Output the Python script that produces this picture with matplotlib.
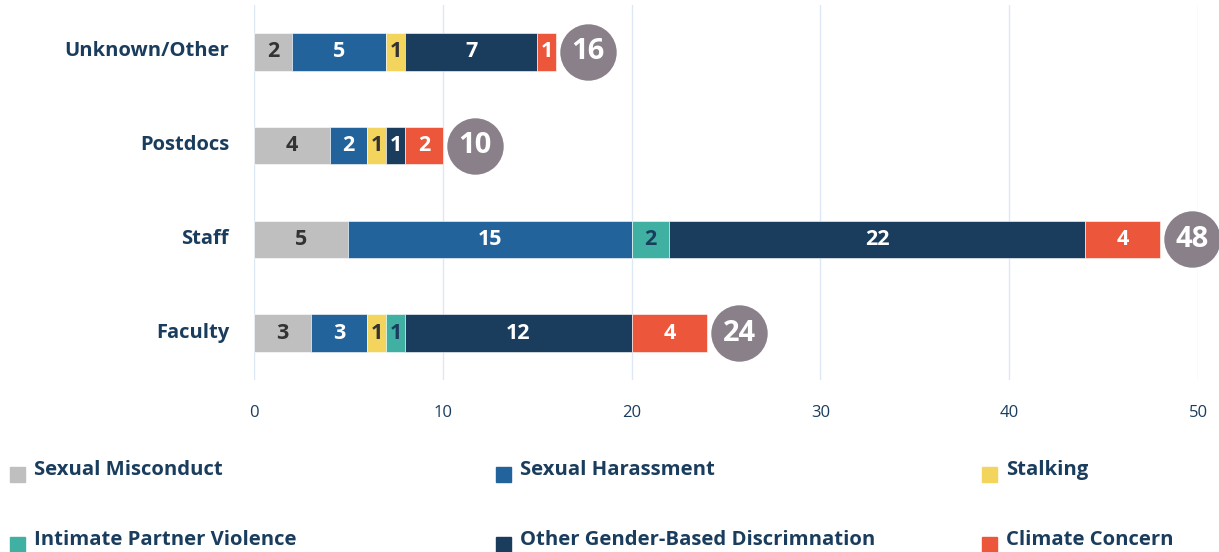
import matplotlib.pyplot as plt
from matplotlib.patches import Rectangle
from matplotlib.transforms import offset_copy, ScaledTranslation

plt.rcParams['font.family'] = ['Open Sans', 'DejaVu Sans']

# data
groups = ['Faculty', 'Staff', 'Postdocs', 'Unknown/Other']
categories = ['Sexual Misconduct', 'Sexual Harassment', 'Stalking',
              'Intimate Partner Violence', 'Other Gender-Based Discrimnation',
              'Climate Concern']
sexual_misconduct = [3, 5, 4, 2]
sexual_harassment = [3, 15, 2, 5]
stalking = [1, 0, 1, 1]
intimate_partner = [1, 2, 0, 0]
other_gender = [12, 22, 1, 7]
climate_concern = [4, 4, 2, 1]
totals = [24, 48, 10, 16]
xticks = [0, 10, 20, 30, 40, 50]

series = [sexual_misconduct, sexual_harassment, stalking,
          intimate_partner, other_gender, climate_concern]
colors = ['#bfbfbf', '#22639b', '#f3d45c', '#3fb0a2', '#1a3d5e', '#ec573b']
txt_colors = ['#333333', 'white', '#333333', '#1a3d5e', 'white', 'white']
navy = '#1a3d5e'

fig = plt.figure(figsize=(12.19, 5.52), dpi=100)
ax = fig.add_axes([0.2084, 0.3116, 0.7744, 0.6794])

ypos = list(range(len(groups)))
left = [0] * len(groups)
for vals, c, tc in zip(series, colors, txt_colors):
    ax.barh(ypos, vals, left=left, height=0.4, color=c,
            edgecolor='white', linewidth=0.4, zorder=3)
    for i, v in enumerate(vals):
        if v > 0:
            ax.text(left[i] + v / 2, ypos[i], str(v), ha='center', va='center',
                    fontsize=15.5, fontweight='bold', color=tc, zorder=4)
    left = [l + v for l, v in zip(left, vals)]

# total circles
tr = offset_copy(ax.transData, fig=fig, x=23, y=0, units='points')
ax.scatter(totals, ypos, s=1650, color='#8a8089', transform=tr, zorder=5,
           clip_on=False, linewidths=0)
for t, y in zip(totals, ypos):
    ax.text(t, y, str(t), transform=tr, ha='center', va='center',
            fontsize=21, fontweight='bold', color='white', zorder=6)

ax.set_xlim(0, 50)
ax.set_ylim(-0.5, 3.5)
ax.set_xticks(xticks)
ax.set_yticks(ypos)
ax.set_yticklabels(groups, fontsize=14.5, fontweight='bold', color=navy)
ax.tick_params(axis='y', length=0, pad=18)
ax.tick_params(axis='x', length=0, pad=18, labelsize=12, labelcolor=navy)
up = ScaledTranslation(0, 3 / 100, fig.dpi_scale_trans)
for lab in ax.get_yticklabels():
    lab.set_transform(lab.get_transform() + up)
ax.grid(axis='x', color='#dce8f5', linewidth=1, zorder=0)
for s in ax.spines.values():
    s.set_visible(False)

# legend drawn by hand, 3 columns x 2 rows
col_x = [10, 496, 982]
row_y = [470, 540]
for k, (name, c) in enumerate(zip(categories, colors)):
    cx = col_x[k % 3]
    cy = row_y[k // 3]
    fig.add_artist(Rectangle((cx / 1219, 1 - (cy + 12) / 552), 15 / 1219, 15 / 552,
                             transform=fig.transFigure, color=c))
    fig.text((cx + 24) / 1219, 1 - cy / 552, name, fontsize=14.6, fontweight='bold',
             color=navy, va='center', ha='left')

fig.savefig('out.png', dpi=100)
